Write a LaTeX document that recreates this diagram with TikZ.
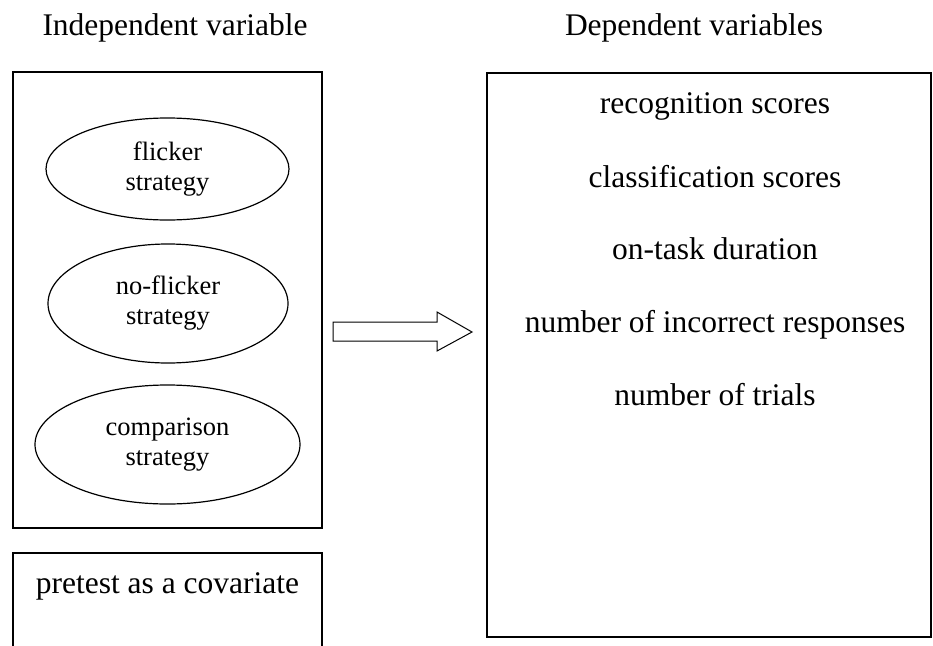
\documentclass[tikz,border=0pt]{standalone}
\usepackage{fontspec}
\setmainfont{Liberation Serif}
\usepackage{tikz}
\usetikzlibrary{shapes.geometric}

\begin{document}
\begin{tikzpicture}[x=1pt, y=-1pt,
    box/.style={draw, line width=1.6pt, inner sep=0pt},
    strat/.style={draw, ellipse, line width=1.2pt, inner sep=0pt, align=center,
        font=\fontsize{26.5}{30}\selectfont},
    title/.style={anchor=base, font=\fontsize{31.5}{36}\selectfont},
    dvar/.style={anchor=base, font=\fontsize{31.5}{36}\selectfont}]
    \clip (0,0) rectangle (933,645);
    \node[title] (indep) at (175,35) {Independent variable};
    \node[title] (dep) at (694,35) {Dependent variables};
    \node[box, minimum width=309, minimum height=456] (ivbox) at (167.5,300) {};
    \node[box, minimum width=309, minimum height=120] (covbox) at (167.5,613) {};
    \node[box, minimum width=444, minimum height=564] (dvbox) at (709,355) {};
    \node[strat, minimum width=243, minimum height=102] (flicker) at (167.5,169) {flicker\\strategy};
    \node[strat, minimum width=240, minimum height=119] (noflicker) at (168,303.5) {no-flicker\\strategy};
    \node[strat, minimum width=265, minimum height=119] (comparison) at (167.5,444.5) {comparison\\strategy};
    \node[dvar] (pretest) at (167.5,593) {pretest as a covariate};
    \node[dvar] (recog) at (715,113) {recognition scores};
    \node[dvar] (classif) at (715,187) {classification scores};
    \node[dvar] (ontask) at (715,259) {on-task duration};
    \node[dvar] (incorrect) at (715,332) {number of incorrect responses};
    \node[dvar] (trials) at (715,405) {number of trials};
    \draw[line width=1pt] (333,322) -- (437,322) -- (437,312) -- (472,332)
        -- (437,351) -- (437,341) -- (333,341) -- cycle;
\end{tikzpicture}
\end{document}
